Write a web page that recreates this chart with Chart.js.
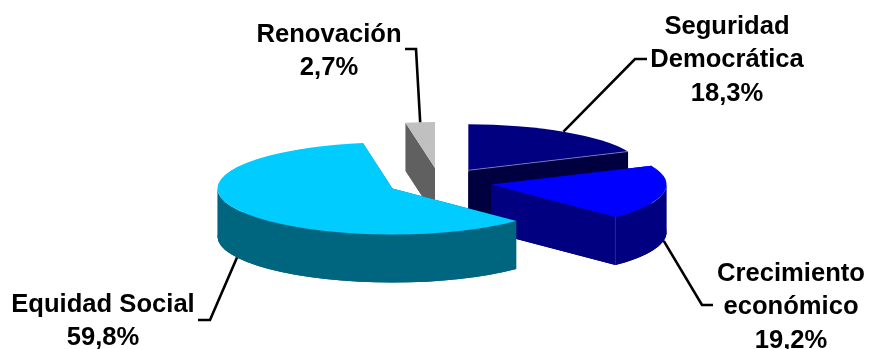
<!DOCTYPE html>
<html>
<head>
<meta charset="utf-8">
<title>Distribución</title>
<script src="https://cdn.jsdelivr.net/npm/chart.js@4"></script>
<style>
  html, body { margin: 0; padding: 0; background: #fff; }
  #wrap { width: 869px; height: 349px; }
</style>
</head>
<body>
<div id="wrap"><canvas id="pieChart"></canvas></div>
<script>
// drawn back to front, so Renovación comes first
const categories = ["Renovación", "Seguridad Democrática", "Crecimiento económico", "Equidad Social"];
const shares = [2.7, 18.3, 19.2, 59.8];
const labelLines = [["Renovación", "2,7%"], ["Seguridad", "Democrática", "18,3%"], ["Crecimiento", "económico", "19,2%"], ["Equidad Social", "59,8%"]];

const topColors = ["#c0c0c0", "#000080", "#0000ff", "#00ccff"];
const sideColors = ["#606060", "#000040", "#000080", "#006680"];

const tilt = 0.263;      // ellipse height / width
const depth = 48;        // wall height
const explode = 53;

// baseline of the first text line, then the elbow and end of the leader line
const labelPos = [
  { x: 329, y: 42, elbow: [416, 49], end: [405, 49] },
  { x: 727, y: 34, elbow: [635, 59], end: [647, 59] },
  { x: 791, y: 281, elbow: [702, 305], end: [713, 305] },
  { x: 103, y: 312, elbow: [210, 320], end: [198, 320] }
];

function rimPoint(arc, angle, dx, dy) {
  return [
    arc.x + dx + Math.cos(angle) * arc.outerRadius,
    arc.y + dy + Math.sin(angle) * arc.outerRadius * tilt
  ];
}

function facePath(ctx, arc, dx, dy) {
  ctx.beginPath();
  ctx.ellipse(arc.x + dx, arc.y + dy, arc.outerRadius, arc.outerRadius * tilt, 0, arc.startAngle, arc.endAngle);
  ctx.lineTo(arc.x + dx, arc.y + dy);
  ctx.closePath();
}

function drawWalls(ctx, arc, dx, dy) {
  const rx = arc.outerRadius;
  const ry = rx * tilt;
  const cx = arc.x + dx;
  const cy = arc.y + dy;

  // outer band, only the part of the rim that faces the viewer (0..PI)
  const from = Math.max(arc.startAngle, 0);
  const to = Math.min(arc.endAngle, Math.PI);
  if (to > from) {
    ctx.beginPath();
    ctx.ellipse(cx, cy, rx, ry, 0, from, to);
    ctx.ellipse(cx, cy + depth, rx, ry, 0, to, from, true);
    ctx.closePath();
    ctx.fill();
  }

  // radial walls
  [arc.startAngle, arc.endAngle].forEach(angle => {
    const p = rimPoint(arc, angle, dx, dy);
    ctx.beginPath();
    ctx.moveTo(cx, cy);
    ctx.lineTo(p[0], p[1]);
    ctx.lineTo(p[0], p[1] + depth);
    ctx.lineTo(cx, cy + depth);
    ctx.closePath();
    ctx.fill();
  });

  facePath(ctx, arc, dx, dy + depth);
  ctx.fill();
}

const pie3d = {
  id: "pie3d",
  beforeDatasetDraw(chart) {
    const ctx = chart.ctx;
    chart.getDatasetMeta(0).data.forEach((arc, i) => {
      const mid = (arc.startAngle + arc.endAngle) / 2;
      const dx = Math.cos(mid) * explode;
      const dy = Math.sin(mid) * explode * tilt;

      ctx.fillStyle = sideColors[i];
      drawWalls(ctx, arc, dx, dy);

      facePath(ctx, arc, dx, dy);
      ctx.fillStyle = topColors[i];
      ctx.fill();

      // the thin light seams on the two blue slices
      const p = rimPoint(arc, arc.endAngle, dx, dy);
      ctx.lineWidth = 0.8;
      if (i === 1) {
        ctx.strokeStyle = "#8080c0";
        ctx.beginPath();
        ctx.moveTo(arc.x + dx, arc.y + dy);
        ctx.lineTo(p[0], p[1]);
        ctx.stroke();
      } else if (i === 2) {
        ctx.strokeStyle = "#3030b0";
        ctx.beginPath();
        ctx.moveTo(p[0], p[1]);
        ctx.lineTo(p[0], p[1] + depth);
        ctx.stroke();
      }
    });
    return false; // faces are already drawn
  },
  afterDraw(chart) {
    const ctx = chart.ctx;
    chart.getDatasetMeta(0).data.forEach((arc, i) => {
      const mid = (arc.startAngle + arc.endAngle) / 2;
      const dx = Math.cos(mid) * explode;
      const dy = Math.sin(mid) * explode * tilt;
      const start = rimPoint(arc, mid, dx, dy + (Math.sin(mid) > 0 ? depth : 0));
      const pos = labelPos[i];

      ctx.beginPath();
      ctx.moveTo(start[0], start[1]);
      ctx.lineTo(pos.elbow[0], pos.elbow[1]);
      ctx.lineTo(pos.end[0], pos.end[1]);
      ctx.strokeStyle = "#000";
      ctx.lineWidth = 2.6;
      ctx.stroke();

      ctx.fillStyle = "#000";
      ctx.font = "bold 25.6px 'Liberation Sans', Arial, sans-serif";
      ctx.textAlign = "center";
      ctx.textBaseline = "alphabetic";
      labelLines[i].forEach((line, n) => {
        ctx.fillText(line, pos.x, pos.y + n * 33.3);
      });
    });
  }
};

new Chart(document.getElementById("pieChart"), {
  type: "pie",
  data: {
    labels: categories,
    datasets: [{
      data: shares,
      backgroundColor: topColors,
      borderWidth: 0,
      radius: 175
    }]
  },
  options: {
    responsive: true,
    maintainAspectRatio: false,
    animation: false,
    rotation: -shares[0] * 3.6,
    layout: { padding: { left: 10, top: 15 } },
    plugins: {
      legend: { display: false },
      tooltip: { enabled: false }
    }
  },
  plugins: [pie3d]
});
</script>
</body>
</html>
